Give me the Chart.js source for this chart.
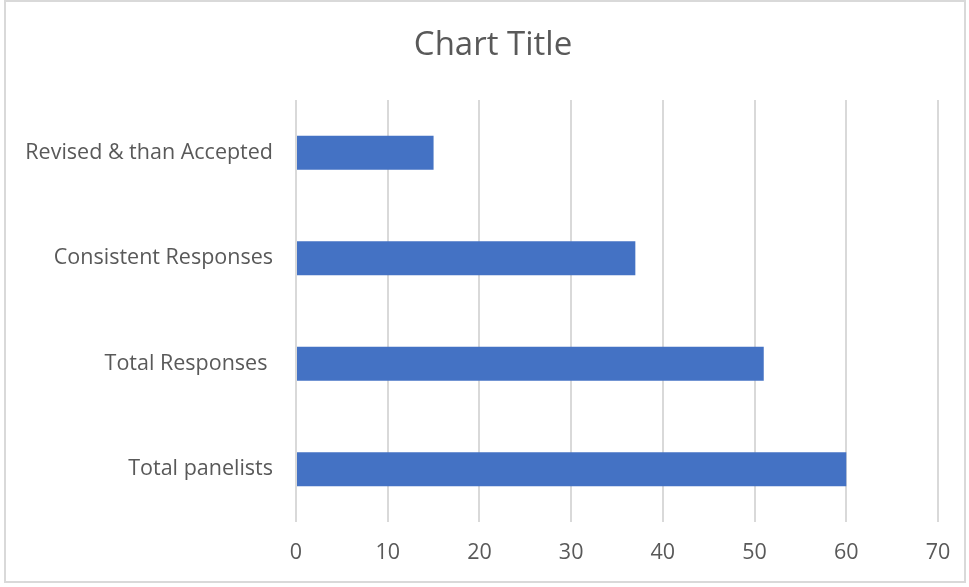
<!DOCTYPE html>
<html>
<head>
<meta charset="utf-8">
<script src="https://cdn.jsdelivr.net/npm/chart.js@4"></script>
<style>
  body { margin: 0; background: #fff; }
  #frame {
    position: absolute; left: 4px; top: 0;
    width: 958px; height: 579px;
    border: 2px solid #d9d9d9;
  }
  canvas { display: block; }
</style>
</head>
<body>
<div id="frame"><canvas id="chart" width="958" height="579"></canvas></div>
<script>
var categories = ['Revised & than Accepted', 'Consistent Responses', 'Total Responses ', 'Total panelists'];
var values = [15, 37, 51, 60];
var xTicks = [0, 10, 20, 30, 40, 50, 60, 70];

var textColor = '#595959';
var fontFamily = "'Open Sans', 'Noto Sans', sans-serif";

// the title sits a bit right of the canvas centre in the original
var shiftTitle = {
    id: 'shiftTitle',
    afterLayout: function (chart) {
        if (chart.titleBlock) {
            chart.titleBlock.left = 42;
            chart.titleBlock.right = 932;
        }
    }
};

var ctx = document.getElementById('chart');
var chart = new Chart(ctx, {
    type: 'bar',
    data: {
        labels: categories,
        datasets: [{
            data: values,
            backgroundColor: '#4472C4',
            borderWidth: 0,
            barPercentage: 0.32,
            categoryPercentage: 1
        }]
    },
    plugins: [shiftTitle],
    options: {
        indexAxis: 'y',
        responsive: false,
        animation: false,
        layout: { padding: { left: 0, right: 26, top: 0, bottom: 0 } },
        plugins: {
            legend: { display: false },
            tooltip: { enabled: false },
            title: {
                display: true,
                text: 'Chart Title',
                color: textColor,
                font: { family: fontFamily, size: 33, weight: 'normal' },
                padding: { top: 24, bottom: 34.4 }
            }
        },
        scales: {
            x: {
                min: 0,
                max: 70,
                afterBuildTicks: function (scale) {
                    scale.ticks = xTicks.map(function (v) { return { value: v }; });
                },
                afterFit: function (scale) {
                    scale.height = 59;
                    scale.paddingRight = 0;
                    scale.paddingLeft = 0;
                },
                border: { display: false },
                grid: { color: '#d9d9d9', lineWidth: 2, drawTicks: false },
                ticks: {
                    color: textColor,
                    padding: 18,
                    font: { family: fontFamily, size: 21.5 }
                }
            },
            y: {
                afterFit: function (scale) { scale.width = 290; },
                border: { display: false },
                grid: { display: false, drawTicks: false },
                ticks: {
                    color: textColor,
                    padding: 23,
                    font: { family: fontFamily, size: 21.5 }
                }
            }
        }
    }
});
</script>
</body>
</html>
